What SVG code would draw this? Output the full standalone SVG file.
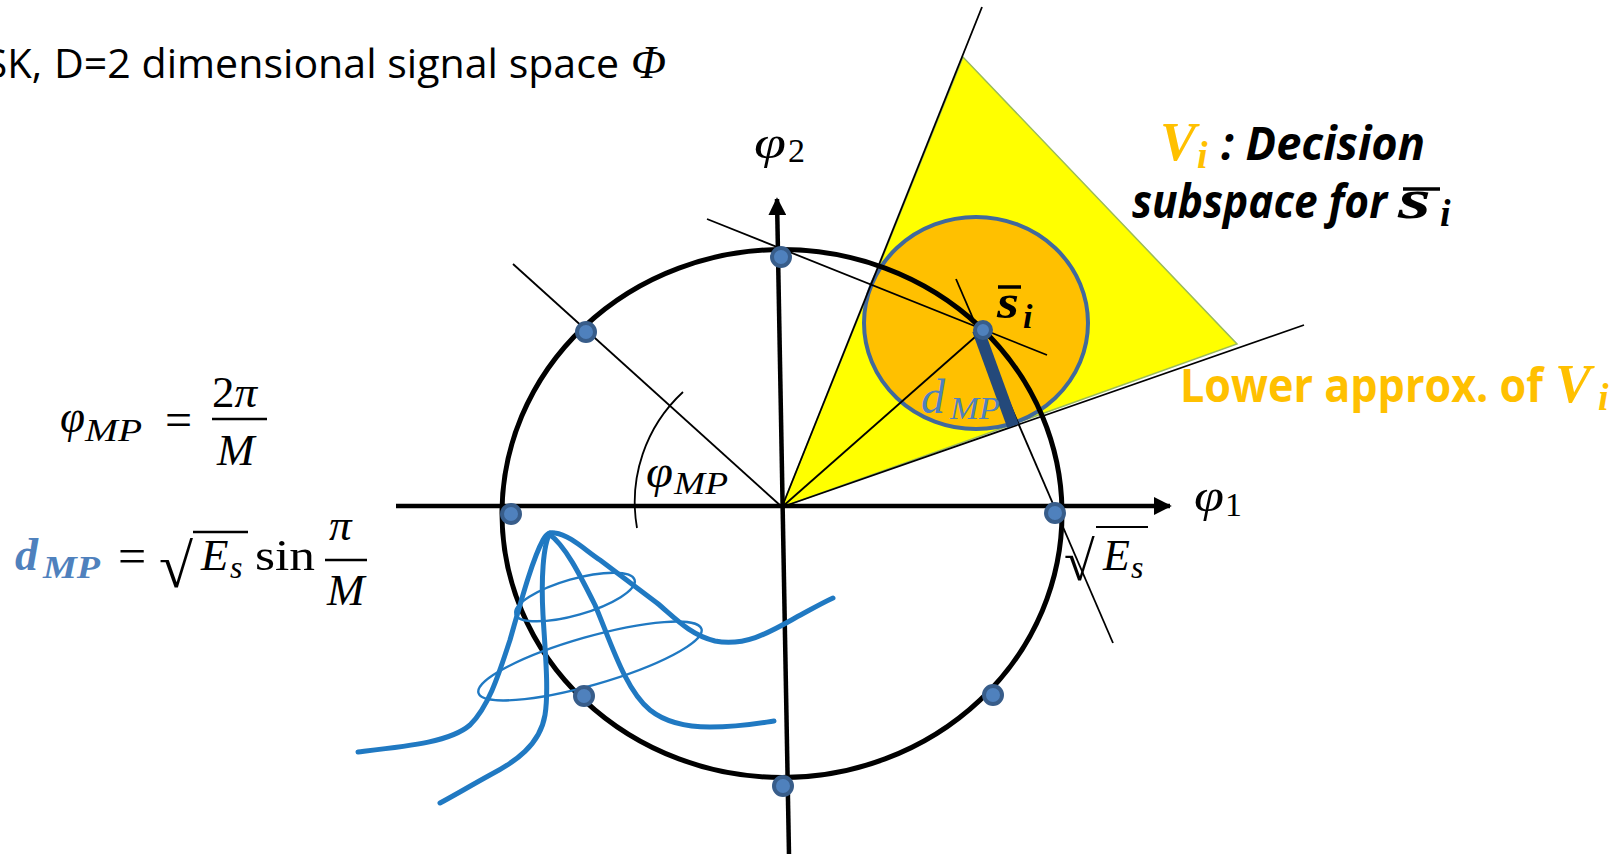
<svg xmlns="http://www.w3.org/2000/svg" width="1623" height="854" viewBox="0 0 1623 854">
<defs>
<style>
.thin{stroke:#000;stroke-width:1.8;fill:none}
.axis{stroke:#000;stroke-width:4.5;fill:none}
.dot{fill:#4f81bd;stroke:#385d8a;stroke-width:4}
.gauss{stroke:#2079c2;stroke-width:5;fill:none;stroke-linecap:round;stroke-linejoin:round}
.ell{stroke:#2079c2;stroke-width:2.4;fill:none}
.math{font-family:"Liberation Serif","DejaVu Serif",serif;font-style:italic}
.rm{font-family:"Liberation Serif","DejaVu Serif",serif}
.sans{font-family:"Open Sans","Liberation Sans",sans-serif}
</style>
<marker id="arr" viewBox="0 0 10 10" refX="9" refY="5" markerWidth="4" markerHeight="4" orient="auto" markerUnits="strokeWidth">
<path d="M0,0 L10,5 L0,10 z" fill="#000"/>
</marker>
</defs>
<rect width="1623" height="854" fill="#fff"/>

<g id="decision-region">
<polygon points="782,507 963,57 1237,344" fill="#ffff00" stroke="#9bbb59" stroke-width="1.5"/>
<ellipse cx="976" cy="323" rx="112" ry="106" fill="#ffc000" stroke="#41699c" stroke-width="4"/>
</g>

<g id="connectors">
<line class="thin" x1="782" y1="507" x2="982" y2="7"/>
<line class="thin" x1="782" y1="507" x2="1304" y2="325"/>
<line class="thin" x1="513" y1="264" x2="782" y2="507"/>
<line class="thin" x1="707" y1="219" x2="1047" y2="355"/>
<line class="thin" x1="956" y1="279" x2="1113" y2="643"/>
<line class="thin" x1="782" y1="507" x2="983" y2="330"/>
<path class="thin" d="M683,392 A150,150 0 0 0 637,528"/>
</g>

<g id="signal-circle">
<ellipse cx="782" cy="513.5" rx="280" ry="264" fill="none" stroke="#000" stroke-width="5"/>
</g>

<g id="axes">
<line class="axis" x1="396" y1="506" x2="1170" y2="506" marker-end="url(#arr)"/>
<line class="axis" x1="789" y1="854" x2="777" y2="199" marker-end="url(#arr)"/>
</g>

<g id="noise">
<path class="gauss" d="M358,752 C410,746 450,742 470,725 C490,705 500,670 510,640 C520,605 532,560 543,540 C547,533 550,532 555,533 C570,535 585,550 600,560 C620,575 640,590 657,603 C675,618 690,635 715,641 C745,647 770,632 795,618 C810,610 820,604 833,598"/>
<path class="gauss" d="M549,534 C565,545 580,575 595,605 C610,640 625,690 650,710 C665,722 685,727 710,727 C740,727 760,723 774,721"/>
<path class="gauss" d="M550,533 C543,545 541,580 543,615 C545,650 549,690 545,715 C540,745 515,762 490,775 C470,786 455,795 440,803"/>
<ellipse class="ell" cx="575" cy="597" rx="62" ry="18" transform="rotate(-16 575 597)"/>
<ellipse class="ell" cx="590" cy="661" rx="116" ry="24" transform="rotate(-16 590 661)"/>
</g>

<g id="points">
<circle class="dot" cx="781" cy="257" r="9"/>
<circle class="dot" cx="586" cy="332" r="9"/>
<circle class="dot" cx="511" cy="514" r="9"/>
<circle class="dot" cx="584" cy="696" r="9"/>
<circle class="dot" cx="783" cy="786" r="9"/>
<circle class="dot" cx="993" cy="695" r="9"/>
<circle class="dot" cx="1055" cy="513" r="9"/>
</g>

<g id="s-i">
<line x1="978" y1="330" x2="1013" y2="426" stroke="#24497a" stroke-width="12"/>
<circle class="dot" cx="983" cy="330" r="8"/>
<text class="math" x="997" y="318" font-size="48" font-weight="bold" textLength="22" lengthAdjust="spacingAndGlyphs">s</text>
<line x1="998" y1="287" x2="1021" y2="287" stroke="#000" stroke-width="3.5"/>
<text class="math" x="1023" y="328" font-size="34" font-weight="bold">i</text>
<text class="math" x="921" y="413" font-size="48" fill="#4f81bd">d</text>
<text class="math" x="950" y="419" font-size="32" fill="#4f81bd" textLength="50" lengthAdjust="spacingAndGlyphs">MP</text>
</g>

<g id="labels">
<text class="sans" x="42" y="78" font-size="40" text-anchor="end">SK,</text>
<text class="sans" x="54" y="78" font-size="40" textLength="565" lengthAdjust="spacingAndGlyphs">D=2 dimensional signal space</text>
<text class="math" x="631" y="78" font-size="46">Φ</text>

<text class="math" x="754" y="158" font-size="46" textLength="32" lengthAdjust="spacingAndGlyphs">φ</text>
<text class="rm" x="788" y="162" font-size="34">2</text>

<text class="math" x="1194" y="511" font-size="46" textLength="30" lengthAdjust="spacingAndGlyphs">φ</text>
<text class="rm" x="1225" y="516" font-size="34">1</text>

<text class="math" x="646" y="487" font-size="46" textLength="27" lengthAdjust="spacingAndGlyphs">φ</text>
<text class="math" x="674" y="494" font-size="32" textLength="54" lengthAdjust="spacingAndGlyphs">MP</text>

<text class="rm" x="1064" y="580" font-size="56">√</text>
<line x1="1096" y1="527" x2="1148" y2="527" stroke="#000" stroke-width="2"/>
<text class="math" x="1103" y="570" font-size="44">E</text>
<text class="math" x="1131" y="578" font-size="32">s</text>
</g>

<g id="formulas">
<text class="math" x="60" y="432" font-size="46" textLength="25" lengthAdjust="spacingAndGlyphs">φ</text>
<text class="math" x="85" y="441" font-size="32" textLength="57" lengthAdjust="spacingAndGlyphs">MP</text>
<text class="rm" x="165" y="436" font-size="48">=</text>
<text class="rm" x="212" y="407" font-size="45">2<tspan font-style="italic">π</tspan></text>
<line x1="212" y1="419" x2="267" y2="419" stroke="#000" stroke-width="2.5"/>
<text class="math" x="217" y="465" font-size="45">M</text>

<text class="math" x="15" y="570" font-size="46" font-weight="bold" fill="#4f81bd">d</text>
<text class="math" x="43" y="578" font-size="32" font-weight="bold" fill="#4f81bd" textLength="57" lengthAdjust="spacingAndGlyphs">MP</text>
<text class="rm" x="118" y="573" font-size="50">=</text>
<text class="rm" x="159" y="587" font-size="62">√</text>
<line x1="193" y1="532" x2="248" y2="532" stroke="#000" stroke-width="2.5"/>
<text class="math" x="201" y="570" font-size="45">E</text>
<text class="math" x="230" y="578" font-size="32">s</text>
<text class="rm" x="255" y="570" font-size="45" textLength="60" lengthAdjust="spacingAndGlyphs">sin</text>
<text class="math" x="329" y="540" font-size="45">π</text>
<line x1="325" y1="560" x2="367" y2="560" stroke="#000" stroke-width="2.5"/>
<text class="math" x="327" y="605" font-size="45">M</text>
</g>

<g id="region-labels">
<text class="math" x="1160" y="160" font-size="54" font-weight="bold" fill="#ffc000">V</text>
<text class="math" x="1197" y="168" font-size="38" font-weight="bold" fill="#ffc000">i</text>
<text class="sans" x="1221" y="160" font-size="46" font-weight="bold" font-style="italic" textLength="204" lengthAdjust="spacingAndGlyphs">: Decision</text>
<text class="sans" x="1132" y="218" font-size="46" font-weight="bold" font-style="italic" textLength="255" lengthAdjust="spacingAndGlyphs">subspace for</text>
<text class="math" x="1398" y="218" font-size="56" font-weight="bold" textLength="33" lengthAdjust="spacingAndGlyphs">s</text>
<line x1="1403" y1="189" x2="1440" y2="189" stroke="#000" stroke-width="3.5"/>
<text class="math" x="1440" y="226" font-size="38" font-weight="bold">i</text>

<text class="sans" x="1180" y="402" font-size="46" font-weight="bold" fill="#ffc000" textLength="363" lengthAdjust="spacingAndGlyphs">Lower approx. of</text>
<text class="math" x="1555" y="402" font-size="54" font-weight="bold" fill="#ffc000">V</text>
<text class="math" x="1598" y="410" font-size="38" font-weight="bold" fill="#ffc000">i</text>
</g>
</svg>
